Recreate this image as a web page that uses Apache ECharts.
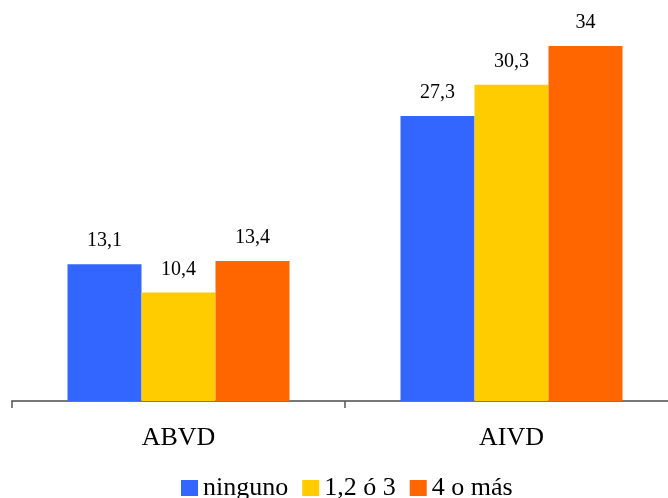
<!DOCTYPE html>
<html>
<head>
<meta charset="utf-8">
<script src="https://cdn.jsdelivr.net/npm/echarts@6/dist/echarts.min.js"></script>
<style>html,body{margin:0;padding:0;background:#fff}#c{width:668px;height:498px}</style>
</head>
<body>
<div id="c"></div>
<script>
var categories = ['ABVD', 'AIVD'];
var seriesNames = ['ninguno', '1,2 ó 3', '4 o más'];
var ninguno = [13.1, 27.3];
var uno23 = [10.4, 30.3];
var cuatroMas = [13.4, 34];
var colors = ['#3366FF', '#FFCC00', '#FF6600'];
var values = [ninguno, uno23, cuatroMas];
var font = "'Liberation Serif', 'Times New Roman', serif";

var chart = echarts.init(document.getElementById('c'));
chart.setOption({
  animation: false,
  grid: { left: 12, right: -10, top: 46, bottom: 97, outerBoundsMode: 'none', containLabel: false },
  legend: {
    left: 176, top: 470,
    itemWidth: 17, itemHeight: 16, itemGap: 14,
    icon: 'rect',
    textStyle: { fontFamily: font, fontSize: 26, color: '#000' },
    data: seriesNames
  },
  xAxis: {
    type: 'category', data: categories,
    axisLine: { lineStyle: { color: '#777', width: 2 } },
    axisTick: { show: true, length: 7, lineStyle: { color: '#555', width: 1.5 } },
    axisLabel: { fontFamily: font, fontSize: 26, color: '#000', margin: 24 }
  },
  yAxis: { type: 'value', min: 0, max: 34, show: false, splitLine: { show: false } },
  series: seriesNames.map(function (n, i) {
    return {
      name: n, type: 'bar', data: values[i], barWidth: 74, barGap: '0%',
      itemStyle: { color: colors[i] },
      label: {
        show: true, position: 'top', distance: 13,
        fontFamily: font, fontSize: 20, color: '#000',
        formatter: function (p) { return String(p.value).replace('.', ','); }
      }
    };
  })
});
</script>
</body>
</html>
